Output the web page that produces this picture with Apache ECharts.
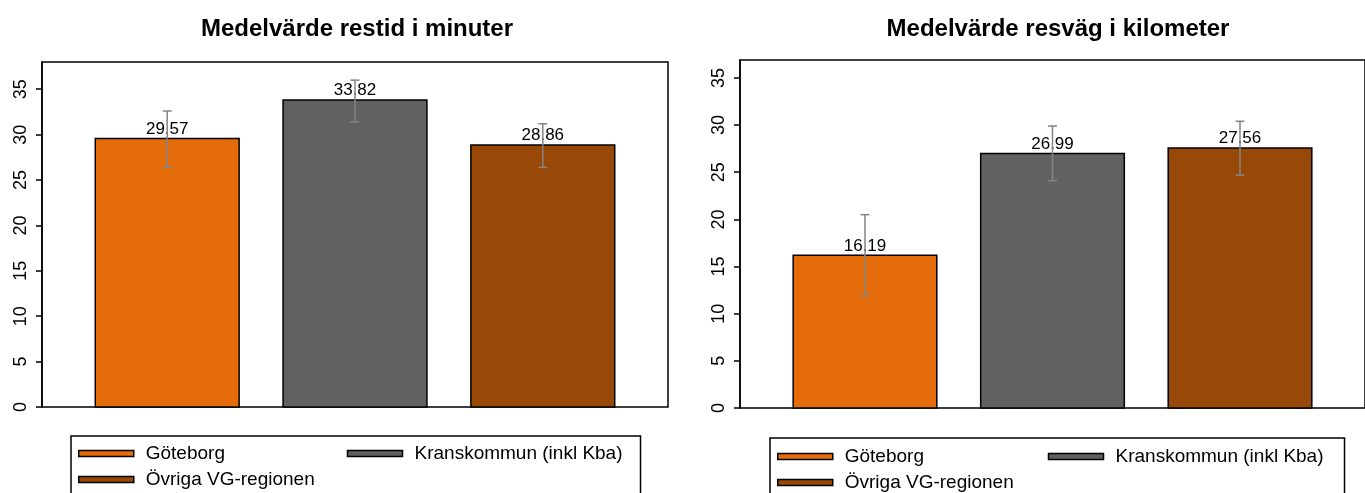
<!DOCTYPE html>
<html>
<head>
<meta charset="utf-8">
<script src="https://cdn.jsdelivr.net/npm/echarts@6/dist/echarts.min.js"></script>
<style>
html, body { margin: 0; padding: 0; background: #fff; }
#chart { width: 1365px; height: 493px; }
</style>
</head>
<body>
<div id="chart"></div>
<script>
// medelvärden med felstaplar, två paneler
const categories = ['Göteborg', 'Kranskommun (inkl Kba)', 'Övriga VG-regionen'];
const barColors = ['#E46C0A', '#616161', '#984807'];
const titles = ['Medelvärde restid i minuter', 'Medelvärde resväg i kilometer'];
const yTicks = [0, 5, 10, 15, 20, 25, 30, 35];

const restidMean = [29.57, 33.82, 28.86];
const restidLow = [26.4, 31.4, 26.4];
const restidHigh = [32.6, 36.0, 31.2];

const resvagMean = [16.19, 26.99, 27.56];
const resvagLow = [11.9, 24.1, 24.7];
const resvagHigh = [20.5, 29.9, 30.4];

const FONT = '"Liberation Sans", Arial, Helvetica, sans-serif';
const BAR_W = 0.766;

const chartEle = document.getElementById('chart');
const chart = echarts.init(chartEle, null, { renderer: 'canvas' });

function renderBar(params, api) {
    const x = api.value(0);
    const y = api.value(1);
    const p0 = api.coord([x - BAR_W / 2, y]);
    const p1 = api.coord([x + BAR_W / 2, 0]);
    return {
        type: 'group',
        children: [
            {
                type: 'rect',
                shape: { x: p0[0], y: p0[1], width: p1[0] - p0[0], height: p1[1] - p0[1] },
                style: { fill: barColors[params.dataIndex], stroke: '#000', lineWidth: 1.5 }
            },
            {
                type: 'text',
                x: (p0[0] + p1[0]) / 2,
                y: p0[1] - 1,
                style: {
                    text: y.toFixed(2),
                    font: '17px ' + FONT,
                    fill: '#000',
                    align: 'center', verticalAlign: 'bottom',
                    textAlign: 'center', textVerticalAlign: 'bottom'
                }
            }
        ]
    };
}

function renderErr(params, api) {
    const x = api.value(0);
    const lo = api.coord([x, api.value(1)]);
    const hi = api.coord([x, api.value(2)]);
    const c = 4.5;
    const st = { stroke: '#858585', lineWidth: 1.5 };
    return {
        type: 'group',
        children: [
            { type: 'line', shape: { x1: lo[0], y1: lo[1], x2: hi[0], y2: hi[1] }, style: st },
            { type: 'line', shape: { x1: lo[0] - c, y1: lo[1], x2: lo[0] + c, y2: lo[1] }, style: st },
            { type: 'line', shape: { x1: hi[0] - c, y1: hi[1], x2: hi[0] + c, y2: hi[1] }, style: st }
        ]
    };
}

function panelSeries(idx, mean, low, high) {
    const list = [];
    categories.forEach((name, i) => {
        // tom serie bara för legenden
        list.push({
            name: name,
            type: 'scatter',
            xAxisIndex: idx, yAxisIndex: idx,
            data: [],
            itemStyle: { color: barColors[i], borderColor: '#000', borderWidth: 1.5, opacity: 1 }
        });
    });
    list.push({
        type: 'custom',
        xAxisIndex: idx, yAxisIndex: idx,
        renderItem: renderBar,
        data: mean.map((v, i) => [i + 1, v]),
        z: 2
    });
    list.push({
        type: 'custom',
        xAxisIndex: idx, yAxisIndex: idx,
        renderItem: renderErr,
        data: low.map((v, i) => [i + 1, v, high[i]]),
        z: 3
    });
    return list;
}

function legendFor(left, top, padTop, padRight, textW) {
    const st = (i) => ({ color: barColors[i], borderColor: '#000', borderWidth: 1.5, opacity: 1 });
    return {
        orient: 'vertical',
        left: left, top: top,
        height: 50,
        padding: [padTop, padRight, 14, 7],
        itemGap: 7,
        itemWidth: 55, itemHeight: 6,
        icon: 'rect',
        selectedMode: false,
        borderColor: '#000', borderWidth: 1.5,
        textStyle: { fontSize: 19, fontFamily: FONT, color: '#000', lineHeight: 19, padding: [0, 0, 0, 7] },
        data: [
            { name: categories[0], textStyle: { width: textW }, itemStyle: st(0) },
            { name: categories[2], textStyle: { width: textW }, itemStyle: st(2) },
            { name: categories[1], itemStyle: st(1) }
        ]
    };
}

function yAxisFor(idx, max) {
    return {
        type: 'value',
        gridIndex: idx,
        min: 0, max: max,
        interval: 5,
        axisLine: { show: true, lineStyle: { color: '#000', width: 1.5 } },
        axisTick: { show: true, length: 6, customValues: yTicks, lineStyle: { color: '#000', width: 1.5 } },
        axisLabel: { rotate: 90, fontSize: 18, fontFamily: FONT, color: '#000', margin: 12, customValues: yTicks },
        splitLine: { show: false }
    };
}

const option = {
    animation: false,
    backgroundColor: '#fff',
    textStyle: { fontFamily: FONT },
    title: [
        { text: titles[0], left: 357, top: 17, padding: 0, textAlign: 'center',
          textStyle: { fontSize: 24, fontWeight: 'bold', color: '#000', fontFamily: FONT } },
        { text: titles[1], left: 1058, top: 17, padding: 0, textAlign: 'center',
          textStyle: { fontSize: 24, fontWeight: 'bold', color: '#000', fontFamily: FONT } }
    ],
    legend: [
        legendFor(71, 436, 8, 18, 194),
        legendFor(770, 438, 9, 21, 196)
    ],
    grid: [
        { left: 42, top: 62, width: 626, height: 345, show: true, borderColor: '#000', borderWidth: 1.5, backgroundColor: 'transparent' },
        { left: 740, top: 60, width: 633, height: 348, show: true, borderColor: '#000', borderWidth: 1.5, backgroundColor: 'transparent' }
    ],
    xAxis: [
        { type: 'value', gridIndex: 0, min: 1 / 3, max: 11 / 3, show: false },
        { type: 'value', gridIndex: 1, min: 1 / 3, max: 11 / 3, show: false }
    ],
    yAxis: [
        yAxisFor(0, 38.0),
        yAxisFor(1, 36.9)
    ],
    series: [].concat(
        panelSeries(0, restidMean, restidLow, restidHigh),
        panelSeries(1, resvagMean, resvagLow, resvagHigh)
    )
};

chart.setOption(option);
</script>
</body>
</html>
